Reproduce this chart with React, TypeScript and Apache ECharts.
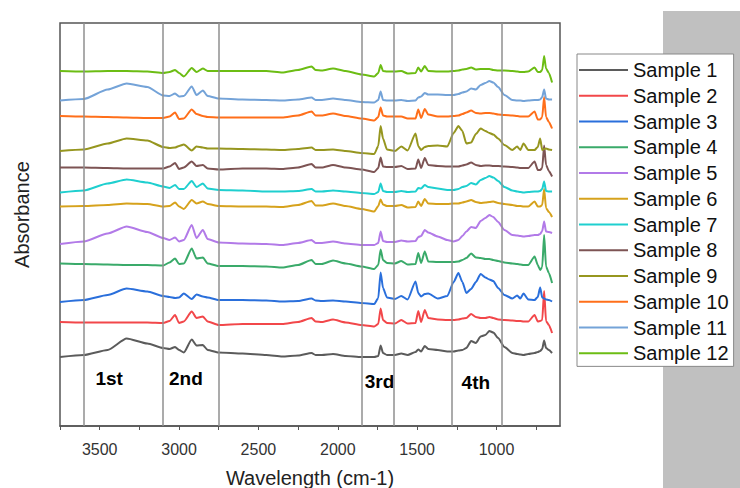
import React, { useEffect, useRef } from "react";
import * as echarts from "echarts";

const wavenumbers = [3750, 3600, 3450, 3330, 3200, 3100, 3060, 3025, 3000, 2970, 2920, 2890, 2850, 2820, 2750, 2600, 2450, 2350, 2250, 2165, 2140, 2100, 2030, 1950, 1850, 1770, 1745, 1730, 1715, 1690, 1640, 1600, 1560, 1510, 1493, 1475, 1452, 1430, 1370, 1310, 1270, 1240, 1215, 1190, 1160, 1130, 1100, 1070, 1045, 1020, 990, 950, 900, 870, 850, 830, 800, 760, 740, 725, 712, 700, 688, 670, 650];

const sample1 = [69, 71, 76, 87.5, 82.5, 78, 77, 79, 76, 73.5, 86.5, 80.5, 81, 76, 73.5, 72.5, 71, 69.5, 70.5, 73, 71, 71, 72, 70, 69, 69, 70, 80.5, 73, 71, 71, 72.5, 71, 74, 76.5, 74.5, 80, 77, 76, 74.5, 74.5, 75.5, 76, 78, 85, 83, 89.5, 91, 95, 93.5, 88, 79, 73, 72, 71.5, 71, 72, 73, 74, 75, 77, 85.5, 78, 76, 73];
const sample2 = [104, 103.5, 103.5, 103.5, 103.5, 103, 105, 111, 103, 104.5, 114.5, 108, 109.5, 104.5, 101, 102, 102, 102, 104, 108, 104.5, 104, 106.5, 103.5, 101, 99.5, 102, 117.5, 106, 103, 102.5, 106, 102.5, 103, 115, 104, 116, 108, 106.5, 106, 106, 106.5, 107.5, 108, 112, 109, 108, 108, 109, 108, 106.5, 106, 105.5, 105, 105, 104.5, 104.5, 111, 104.5, 105, 106, 135, 105, 101, 93];
const sample3 = [124, 126, 131, 137.5, 134.5, 130, 129, 128, 128.5, 132.5, 127, 131.5, 129.5, 128.5, 126, 126, 125.5, 124.5, 125, 127.5, 125.5, 125, 125.5, 124.5, 123, 122, 128, 153.5, 138, 128.5, 127, 130, 126.5, 144.5, 133, 129.5, 132, 132.5, 127.5, 130, 144, 153, 144, 133, 137, 144, 152, 148.5, 146.5, 145, 138, 131, 127.5, 130.5, 127.5, 132.5, 126.5, 126, 129, 138.5, 128.5, 127.5, 126.5, 126, 124.5];
const sample4 = [162.5, 162, 161.5, 161, 161, 160.5, 163.5, 167.5, 162, 162.5, 177.5, 167.5, 168.5, 162.5, 160, 160, 159.5, 158.5, 161, 166, 162, 162, 165.5, 162.5, 159.5, 157, 161, 176.5, 166, 163, 162.5, 165, 161.5, 162, 173, 163, 174.5, 164.5, 164, 164, 164, 164.5, 166, 168, 172.5, 168.5, 168, 167, 167, 166, 165, 163.5, 162.5, 162, 161.5, 161, 161, 169.5, 161, 156, 159, 191, 159.5, 153, 143];
const sample5 = [182, 184.5, 192.5, 199.5, 194, 188, 186, 188.5, 184.5, 186, 201, 188, 196, 187, 183.5, 182.5, 182, 181, 183, 186, 183, 183, 184.5, 182.5, 181, 181, 183, 194.5, 185, 184, 184, 185.5, 184.5, 185, 189, 190, 196, 193.5, 189.5, 186, 184.5, 186, 190, 194.5, 199, 198, 205, 208, 211, 209, 204, 196, 191, 190.5, 190, 189.5, 190, 191, 191, 192, 195, 204.5, 194.5, 194, 193];
const sample6 = [219.5, 220, 221, 222.5, 222, 219.5, 220, 223.5, 219.5, 217, 226, 222.5, 224.5, 222, 220, 219.5, 219.5, 219, 221, 225, 220.5, 220.5, 222.5, 220, 217, 214.5, 220, 226.5, 221.5, 220, 220, 221, 218.5, 219, 224.5, 220, 227, 222.5, 222, 222, 222.5, 222.5, 223.5, 224.5, 226, 224, 223, 223.5, 224, 224.5, 223, 222, 221, 220, 220, 219.5, 219.5, 224.5, 219.5, 219.5, 221, 237, 218, 214, 209];
const sample7 = [233.5, 235.5, 242.5, 246.5, 243.5, 239.5, 238, 241, 237, 237, 245, 239, 242.5, 237.5, 236, 235.5, 234.5, 234.5, 235, 237, 234.5, 234.5, 235.5, 234.5, 233, 232, 234, 242.5, 235, 234, 234, 235, 234, 234.5, 238, 237.5, 241, 239, 237.5, 236, 236, 237, 239, 240, 243, 241.5, 246, 248, 250, 248.5, 245, 239, 235.5, 234.5, 234, 233.5, 234, 234.5, 234.5, 235, 237, 244.5, 235, 234.5, 234.5];
const sample8 = [258.5, 258.5, 258, 257.5, 257.5, 257.5, 259.5, 263, 257, 258.5, 264.5, 260, 261, 257.5, 256.5, 257.5, 257.5, 257, 258.5, 262, 258.5, 258.5, 261, 258.5, 256.5, 254, 258, 268.5, 259.5, 259, 259, 260, 257, 257.5, 266.5, 258, 268, 261, 260, 259.5, 259.5, 259.5, 260.5, 261.5, 263.5, 261, 260, 260.5, 260.5, 260, 260, 259.5, 259, 258.5, 258, 258, 258, 264.5, 256, 256, 258, 280.5, 261, 255, 249.5];
const sample9 = [275, 276.5, 282.5, 287.5, 285.5, 279, 278, 278.5, 280, 281.5, 275.5, 279.5, 278.5, 277.5, 277.5, 277, 276.5, 276, 277, 278.5, 276, 276, 276.5, 275, 273, 272, 280, 300, 287.5, 276.5, 275, 279.5, 275.5, 292.5, 280, 276, 279, 280, 280.5, 279.5, 293, 300, 295, 282.5, 283.5, 292, 297.5, 295, 293, 291.5, 287.5, 281, 276, 279.5, 276, 282.5, 276, 276, 279, 287.5, 276, 277, 277.5, 276.5, 276];
const sample10 = [310, 309.5, 309, 308.5, 308, 308, 309.5, 313.5, 307, 307.5, 316.5, 312, 310, 309, 308.5, 308.5, 308.5, 308.5, 310.5, 314.5, 310.5, 310.5, 312.5, 310, 307.5, 305.5, 309, 318.5, 310.5, 309.5, 309.5, 309.5, 307.5, 307.5, 316.5, 308, 317, 311.5, 309.5, 309.5, 310, 310.5, 312, 313.5, 315.5, 313, 312.5, 313, 313, 312.5, 311.5, 311, 310.5, 310, 309.5, 309.5, 309.5, 314.5, 306.5, 306.5, 309, 329, 309, 304, 297.5];
const sample11 = [325.5, 327, 336.5, 342.5, 339, 330.5, 330, 332.5, 329.5, 330, 339.5, 331, 335.5, 330, 327.5, 326.5, 326, 325.5, 326.5, 328.5, 326, 326, 327.5, 326, 324, 323.5, 326, 334.5, 326, 325.5, 325.5, 326, 325, 325.5, 328.5, 329.5, 333, 331.5, 331.5, 331, 331, 332, 333.5, 334.5, 337.5, 336.5, 341, 343, 345, 343.5, 339, 331, 326, 325.5, 325.5, 325, 325.5, 326, 326, 326.5, 329, 336.5, 327.5, 326.5, 326.5];
const sample12 = [355, 354.5, 355, 355, 354.5, 353, 354, 356, 353, 349.5, 358, 354, 357.5, 355, 355, 355, 355, 353.5, 356, 359.5, 356, 355.5, 357.5, 355, 351.5, 349.5, 353, 361, 355, 354.5, 354.5, 355, 352.5, 353, 358.5, 354.5, 360, 355, 354.5, 354.5, 355, 355.5, 356.5, 357, 358.5, 356.5, 357, 357, 357, 356, 355.5, 355.5, 355, 354.5, 354, 354, 354.5, 358.5, 354, 354, 356, 370, 357.5, 353, 343.5];

const sampleValues = [sample1, sample2, sample3, sample4, sample5, sample6, sample7, sample8, sample9, sample10, sample11, sample12];
const sampleNames = ["Sample 1", "Sample 2", "Sample 3", "Sample 4", "Sample 5", "Sample 6", "Sample 7", "Sample 8", "Sample 9", "Sample 10", "Sample 11", "Sample 12"];
const sampleColors = ["#5b5b5b", "#f2474a", "#2a6fdb", "#3aaa6a", "#b27ae8", "#d6a21c", "#1fcfcf", "#7d5454", "#96961f", "#ff6f1a", "#74a3d8", "#6cbd14"];

const regionBounds = [3600, 3100, 2750, 1850, 1650, 1280, 965];
const regionLabels = ["1st", "2nd", "3rd", "4th"];
const regionLabelX = [3440, 2957, 1737, 1130];
const regionLabelY = [48, 48, 45, 43.5];

const xTickValues = [750, 1000, 1250, 1500, 1750, 2000, 2250, 2500, 2750, 3000, 3250, 3500, 3750];
const xLabelValues = [1000, 1500, 2000, 2500, 3000, 3500];

const FONT = "'Liberation Sans', Arial, sans-serif";

export default function App() {
  const ref = useRef<HTMLDivElement>(null);
  useEffect(() => {
    if (!ref.current) return;
    const chart = echarts.init(ref.current, undefined, { renderer: "svg" });
    const lineSeries = sampleNames.map((name, k) => ({
      name,
      type: "line",
      symbol: "none",
      smooth: 0.2,
      smoothMonotone: "x",
      z: 3,
      lineStyle: { width: 2, color: sampleColors[k] },
      itemStyle: { color: sampleColors[k] },
      data: wavenumbers.map((w, i) => [w, sampleValues[k][i]]),
    }));
    const option = {
      animation: false,
      textStyle: { fontFamily: FONT },
      grid: {
        left: 60,
        right: 180,
        top: 23,
        bottom: 62,
        outerBoundsMode: "none",
        containLabel: false,
        show: true,
        borderColor: "#555",
        borderWidth: 1.5,
        backgroundColor: "transparent",
      },
      xAxis: {
        type: "value",
        min: 600,
        max: 3750,
        inverse: true,
        name: "Wavelength (cm-1)",
        nameLocation: "middle",
        nameGap: 42,
        nameTextStyle: { fontSize: 20, color: "#222", fontFamily: FONT },
        axisLine: { show: true, lineStyle: { color: "#555", width: 1.5 } },
        axisTick: { show: true, length: 4, inside: false, lineStyle: { color: "#555", width: 1 }, customValues: xTickValues },
        axisLabel: {
          fontSize: 16,
          color: "#333",
          margin: 15,
          fontFamily: FONT,
          customValues: xLabelValues,
          formatter: (v: number) => String(v),
        },
        splitLine: { show: false },
      },
      yAxis: {
        type: "value",
        min: 0,
        max: 403,
        name: "Absorbance",
        nameLocation: "middle",
        nameGap: 28,
        nameTextStyle: { fontSize: 20, color: "#222", fontFamily: FONT, padding: [0, 0, 0, 20] },
        axisLine: { show: false },
        axisTick: { show: false },
        axisLabel: { show: false },
        splitLine: { show: false },
      },
      legend: {
        data: sampleNames,
        orient: "vertical",
        left: 577,
        top: 54,
        padding: [6, 5, 3, 2],
        icon: "rect",
        itemWidth: 49,
        itemHeight: 2,
        itemGap: 5.76,
        backgroundColor: "#ffffff",
        borderColor: "#888",
        borderWidth: 1,
        borderRadius: 0,
        z: 10,
        textStyle: { fontSize: 20, color: "#111", fontFamily: FONT, lineHeight: 20 },
      },
      graphic: {
        elements: [
          {
            type: "rect",
            z: 0,
            shape: { x: 663, y: 11, width: 77, height: 477 },
            style: { fill: "#c0c0c0" },
            silent: true,
          },
        ],
      },
      series: [
        {
          name: "regions",
          type: "scatter",
          symbolSize: 0,
          z: 2,
          silent: true,
          data: regionLabelX.map((x, i) => [x, regionLabelY[i]]),
          label: {
            show: true,
            position: "inside",
            formatter: (p: any) => regionLabels[p.dataIndex],
            fontSize: 19,
            fontWeight: "bold",
            color: "#000",
            textBorderWidth: 0,
            opacity: 1,
            fontFamily: FONT,
          },
          labelLayout: { hideOverlap: false },
          emphasis: { disabled: true },
          markLine: {
            silent: true,
            symbol: ["none", "none"],
            label: { show: false },
            lineStyle: { color: "#8f8f8f", width: 1.5, type: "solid" },
            data: regionBounds.map((x) => ({ xAxis: x })),
          },
        },
        ...lineSeries,
      ],
    };
    chart.setOption(option as any);
    return () => chart.dispose();
  }, []);
  return (
    <div
      ref={ref}
      style={{ position: "absolute", left: 0, top: 0, width: 740, height: 488, background: "#fff" }}
    />
  );
}
